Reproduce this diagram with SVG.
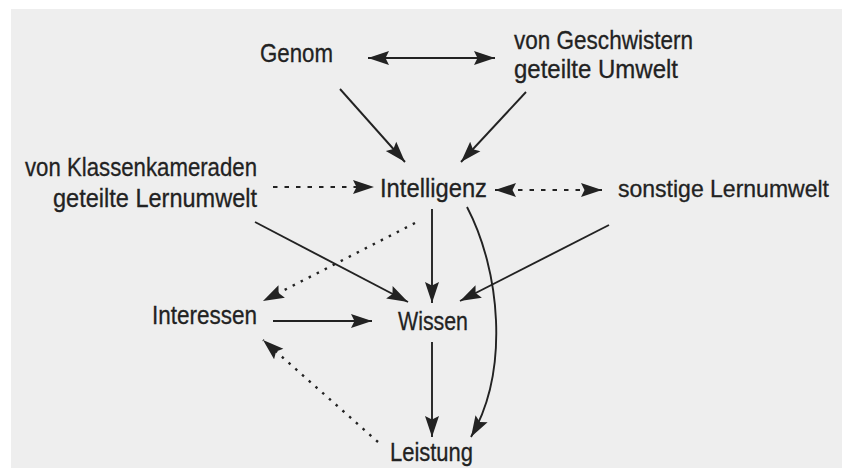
<svg xmlns="http://www.w3.org/2000/svg" width="842" height="468" viewBox="0 0 842 468">
  <style>
    .label { font-family: "Liberation Sans", Arial, sans-serif; font-size: 26px; fill: #222222; stroke: #222222; stroke-width: 0.3; }
    .edge { fill: none; stroke: #222222; stroke-width: 1.9; }
    .dashed { stroke-dasharray: 4.5 7; stroke-width: 2.2; }
    .dotted { stroke-dasharray: 2.5 6.5; stroke-width: 2.4; }
  </style>
  <defs>
    <marker id="arrow" markerUnits="userSpaceOnUse" markerWidth="23" markerHeight="16" viewBox="0 0 23 16" refX="21" refY="8" orient="auto-start-reverse">
      <path d="M0,1 L21,8 L0,15 L3.5,8 Z" fill="#222222"/>
    </marker>
  </defs>

  <!-- page background -->
  <rect x="0" y="0" width="842" height="468" fill="#ffffff"/>
  <rect x="11" y="9" width="831" height="459" fill="#eeeeee"/>

  <!-- connectors -->
  <g id="connectors">
    <path class="edge" d="M368,58 L495,58" marker-start="url(#arrow)" marker-end="url(#arrow)"/>
    <path class="edge" d="M340,89 L405,162" marker-end="url(#arrow)"/>
    <path class="edge" d="M526,92 L461,162" marker-end="url(#arrow)"/>
    <path class="edge dashed" d="M273,187 L374,187" marker-end="url(#arrow)"/>
    <path class="edge dashed" d="M495,190 L602,190" marker-start="url(#arrow)" marker-end="url(#arrow)"/>
    <path class="edge" d="M255,222 L408,302" marker-end="url(#arrow)"/>
    <path class="edge dotted" d="M415,223 L263,301" marker-end="url(#arrow)"/>
    <path class="edge" d="M432,209 L432,303" marker-end="url(#arrow)"/>
    <path class="edge" d="M467,207 C500,270 510,370 471,437" marker-end="url(#arrow)"/>
    <path class="edge" d="M609,225 L460,301" marker-end="url(#arrow)"/>
    <path class="edge" d="M273,321 L372,321" marker-end="url(#arrow)"/>
    <path class="edge" d="M432,342 L432,437" marker-end="url(#arrow)"/>
    <path class="edge dotted" d="M378,442 L263,340" marker-end="url(#arrow)"/>
  </g>

  <!-- nodes -->
  <g id="genom">
    <text class="label" x="260" y="62" textLength="73" lengthAdjust="spacingAndGlyphs">Genom</text>
  </g>
  <g id="geschwister">
    <text class="label" x="514" y="49" textLength="179" lengthAdjust="spacingAndGlyphs">von Geschwistern</text>
    <text class="label" x="514" y="78" textLength="164" lengthAdjust="spacingAndGlyphs">geteilte Umwelt</text>
  </g>
  <g id="klassenkameraden">
    <text class="label" x="25" y="176" textLength="232" lengthAdjust="spacingAndGlyphs">von Klassenkameraden</text>
    <text class="label" x="53" y="207" textLength="204" lengthAdjust="spacingAndGlyphs">geteilte Lernumwelt</text>
  </g>
  <g id="intelligenz">
    <text class="label" x="380" y="197" textLength="107" lengthAdjust="spacingAndGlyphs">Intelligenz</text>
  </g>
  <g id="sonstige">
    <text class="label" x="618" y="197" style="font-size:24px" textLength="211" lengthAdjust="spacingAndGlyphs">sonstige Lernumwelt</text>
  </g>
  <g id="interessen">
    <text class="label" x="152" y="324" textLength="105" lengthAdjust="spacingAndGlyphs">Interessen</text>
  </g>
  <g id="wissen">
    <text class="label" x="398" y="330" textLength="70" lengthAdjust="spacingAndGlyphs">Wissen</text>
  </g>
  <g id="leistung">
    <text class="label" x="390" y="461" textLength="83" lengthAdjust="spacingAndGlyphs">Leistung</text>
  </g>
</svg>
